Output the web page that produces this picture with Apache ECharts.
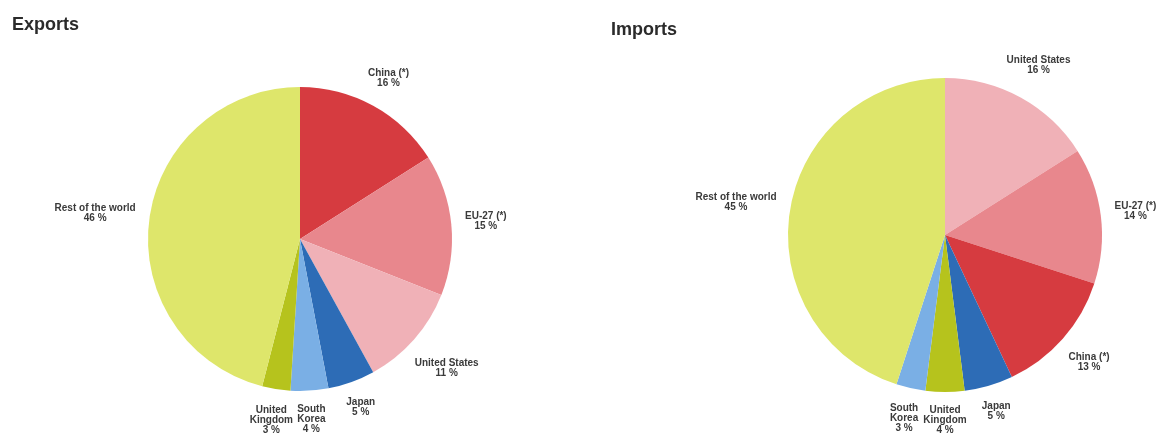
<!DOCTYPE html>
<html>
<head>
<meta charset="utf-8">
<title>Exports and imports by partner</title>
<script src="https://cdn.jsdelivr.net/npm/echarts@6/dist/echarts.min.js"></script>
<style>
  html, body { margin: 0; padding: 0; background: #ffffff; }
  #chart { width: 1159px; height: 440px; }
</style>
</head>
<body>
<div id="chart"></div>
<script>
// Partner shares (%), listed clockwise from 12 o'clock
const exportPartners = ['China (*)', 'EU-27 (*)', 'United States', 'Japan', 'South\nKorea', 'United\nKingdom', 'Rest of the world'];
const exportShares   = [16, 15, 11, 5, 4, 3, 46];

const importPartners = ['United States', 'EU-27 (*)', 'China (*)', 'Japan', 'United\nKingdom', 'South\nKorea', 'Rest of the world'];
const importShares   = [16, 14, 13, 5, 4, 3, 45];

// One colour per partner, shared by both pies
const partnerColors = {
  'China (*)': '#d63b40',
  'EU-27 (*)': '#e8878d',
  'United States': '#f0b1b7',
  'Japan': '#2d6cb6',
  'South\nKorea': '#7aafe5',
  'United\nKingdom': '#b6c31d',
  'Rest of the world': '#dee66b'
};

const pies = [
  { title: 'Exports', names: exportPartners, values: exportShares, cx: 300, cy: 239, r: 152 },
  { title: 'Imports', names: importPartners, values: importShares, cx: 945, cy: 235, r: 157 }
];

const LABEL_GAP = 13;
const LABEL_FONT = 'Liberation Sans, Arial, sans-serif';

// Places each label radially outside its slice, centred on the slice's mid-angle
function radialLabel(pie) {
  const total = pie.values.reduce((a, b) => a + b, 0);
  const starts = [];
  let acc = 0;
  pie.values.forEach(v => { starts.push(acc); acc += v; });
  return function (params) {
    const i = params.dataIndex;
    const mid = (starts[i] + pie.values[i] / 2) / total * Math.PI * 2;
    const dx = Math.sin(mid), dy = -Math.cos(mid);
    const w = params.labelRect.width, h = params.labelRect.height;
    const ext = Math.abs(dx) * w / 2 + Math.abs(dy) * h / 2;
    const d = pie.r + LABEL_GAP + ext;
    return {
      x: pie.cx + dx * d,
      y: pie.cy + dy * d,
      align: 'center',
      verticalAlign: 'middle'
    };
  };
}

const chart = echarts.init(document.getElementById('chart'), null, { renderer: 'canvas' });

chart.setOption({
  animation: false,
  backgroundColor: '#ffffff',
  title: [
    { text: 'Exports', left: 7, top: 11,
      textStyle: { fontFamily: LABEL_FONT, fontSize: 18, fontWeight: 'bold', color: '#2b2b2b' } },
    { text: 'Imports', left: 606, top: 16,
      textStyle: { fontFamily: LABEL_FONT, fontSize: 18, fontWeight: 'bold', color: '#2b2b2b' } }
  ],
  series: pies.map(pie => ({
    type: 'pie',
    name: pie.title,
    center: [pie.cx, pie.cy],
    radius: [0, pie.r],
    startAngle: 90,
    clockwise: true,
    avoidLabelOverlap: false,
    silent: true,
    itemStyle: { borderWidth: 0 },
    label: {
      show: true,
      position: 'outside',
      formatter: '{b}\n{c} %',
      fontFamily: LABEL_FONT,
      fontSize: 10,
      fontWeight: 'bold',
      lineHeight: 10,
      color: '#3a3a3a'
    },
    labelLine: { show: false },
    labelLayout: radialLabel(pie),
    data: pie.names.map((n, i) => ({
      name: n,
      value: pie.values[i],
      itemStyle: { color: partnerColors[n] }
    }))
  }))
});
</script>
</body>
</html>
